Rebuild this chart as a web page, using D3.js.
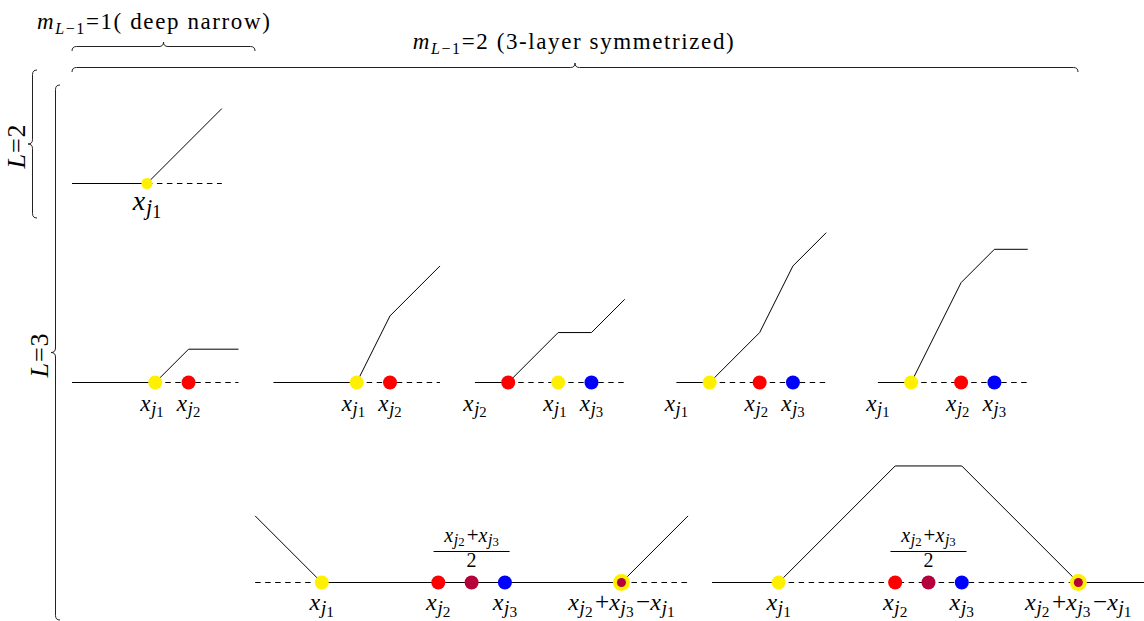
<!DOCTYPE html>
<html>
<head>
<meta charset="utf-8">
<script src="https://cdn.jsdelivr.net/npm/d3@7"></script>
<style>
  html, body { margin: 0; padding: 0; background: #fff; }
  svg { display: block; }
  text { font-family: 'Liberation Serif', 'DejaVu Serif', serif; fill: #000; }
</style>
</head>
<body>
<svg id="chart"></svg>
<script>
// ---- data (in grid units, relative to each panel's start) ----
const panelRow    = [0, 1, 1, 1, 1, 1, 2, 2];
const panelOffset = [0, 0, 12.1, 24.2, 36.3, 48.4, 11, 38.44];

const solidSpans  = [[[0, 4.5]], [[0, 5]], [[0, 5]], [[0, 2]], [[0, 2]], [[0, 2]], [[4, 22]], [[0, 4], [22, 26]]];
const dashedSpans = [[[4.5, 9]], [[5, 10]], [[5, 10]], [[2, 9]], [[2, 9]], [[2, 9]], [[0, 4], [22, 26]], [[4, 22]]];

const ramps = [
  [[[4.5, 0], [9, 4.5]]],
  [[[5, 0], [7, 2], [10, 2]]],
  [[[5, 0], [7, 4], [10, 7]]],
  [[[2, 0], [5, 3], [7, 3], [9, 5]]],
  [[[2, 0], [5, 3], [7, 7], [9, 9]]],
  [[[2, 0], [5, 6], [7, 8], [9, 8]]],
  [[[0, 4], [4, 0]], [[22, 0], [26, 4]]],
  [[[4, 0], [11, 7], [15, 7], [22, 0]]]
];

const knotX    = [[4.5], [5, 7], [5, 7], [2, 5, 7], [2, 5, 7], [2, 5, 7], [4, 11, 13, 15, 22], [4, 11, 13, 15, 22]];
const knotKind = [['y'], ['y', 'r'], ['y', 'r'], ['r', 'y', 'b'], ['y', 'r', 'b'], ['y', 'r', 'b'],
                  ['y', 'r', 'm', 'b', 'ring'], ['y', 'r', 'm', 'b', 'ring']];

const labelX    = [[4.5], [4.8, 7], [4.8, 7], [0, 4.8, 7], [0, 4.8, 7], [0, 4.8, 7], [4, 11, 15, 22], [4, 11, 15, 22]];
const labelText = [
  ['x_{j_1}'],
  ['x_{j_1}', 'x_{j_2}'],
  ['x_{j_1}', 'x_{j_2}'],
  ['x_{j_2}', 'x_{j_1}', 'x_{j_3}'],
  ['x_{j_1}', 'x_{j_2}', 'x_{j_3}'],
  ['x_{j_1}', 'x_{j_2}', 'x_{j_3}'],
  ['x_{j_1}', 'x_{j_2}', 'x_{j_3}', 'x_{j_2}+x_{j_3}−x_{j_1}'],
  ['x_{j_1}', 'x_{j_2}', 'x_{j_3}', 'x_{j_2}+x_{j_3}−x_{j_1}']
];
const fracX = [null, null, null, null, null, null, 13, 13];

const knotColor = { y: '#fff000', r: '#ff0000', b: '#0000ff', m: '#b5003c' };

// ---- layout ----
const width = 1144, height = 621;
const UNIT = 16.65;
const rowBase  = [183.5, 382.5, 582.5];
const rowFont  = [28, 23, 24];
const rowDot   = [5.5, 7, 7];

const svg = d3.select('#chart').attr('width', width).attr('height', height)
  .attr('viewBox', `0 0 ${width} ${height}`);

const x = d3.scaleLinear().domain([0, 1]).range([72, 72 + UNIT]);
const yOf = r => d3.scaleLinear().domain([0, 1]).range([rowBase[r], rowBase[r] - UNIT]);

// writes things like x_{j_1}+x_{j_2} as tspans
function mathText(t, str, size, drop = 1) {
  const re = /([A-Za-z])(?:_\{([A-Za-z])_(\d)\})?|([+−=])/g;
  let m, back = 0;
  while ((m = re.exec(str)) !== null) {
    if (m[1]) {
      t.append('tspan').attr('font-style', 'italic').attr('font-size', size)
        .attr('dy', back).text(m[1]);
      back = 0;
      if (m[2]) {
        t.append('tspan').attr('font-style', 'italic').attr('font-size', size * 0.8)
          .attr('dy', size * 0.2 * drop).attr('dx', size * 0.03).text(m[2]);
        t.append('tspan').attr('font-size', size * 0.64)
          .attr('dy', size * 0.1 * drop).text(m[3]);
        back = -size * 0.3 * drop;
      }
    } else {
      t.append('tspan').attr('font-size', size * 1.05).attr('dy', back)
        .attr('dx', size * 0.1).text(m[4]);
      t.append('tspan').attr('font-size', size).attr('dx', size * 0.1).text('');
      back = 0;
    }
  }
}

const line = d3.line().x(d => x(d[0])).y(d => d[1]);

panelRow.forEach((r, i) => {
  const off = panelOffset[i];
  const y = yOf(r);
  const g = svg.append('g');

  solidSpans[i].forEach(s => {
    g.append('path').attr('d', line([[s[0] + off, y(0)], [s[1] + off, y(0)]]))
      .attr('stroke', '#000').attr('stroke-width', 1).attr('fill', 'none');
  });
  dashedSpans[i].forEach(s => {
    g.append('path').attr('d', line([[s[0] + off, y(0)], [s[1] + off, y(0)]]))
      .attr('stroke', '#000').attr('stroke-width', 1).attr('stroke-dasharray', '5.5,4.5')
      .attr('fill', 'none');
  });
  ramps[i].forEach(pts => {
    g.append('path').attr('d', line(pts.map(p => [p[0] + off, y(p[1])])))
      .attr('stroke', '#000').attr('stroke-width', 1).attr('fill', 'none');
  });

  knotX[i].forEach((kx, k) => {
    const kind = knotKind[i][k];
    if (kind === 'ring') {
      g.append('circle').attr('cx', x(kx + off)).attr('cy', y(0)).attr('r', 8.5).attr('fill', knotColor.y);
      g.append('circle').attr('cx', x(kx + off)).attr('cy', y(0)).attr('r', 4.5).attr('fill', knotColor.m);
    } else {
      g.append('circle').attr('cx', x(kx + off)).attr('cy', y(0)).attr('r', rowDot[r]).attr('fill', knotColor[kind]);
    }
  });

  labelX[i].forEach((lx, k) => {
    const t = g.append('text').attr('x', x(lx + off)).attr('y', y(0) + (r === 0 ? 26 : r === 1 ? 28 : 27))
      .attr('text-anchor', 'middle');
    mathText(t, labelText[i][k], rowFont[r]);
  });

  if (fracX[i] !== null) {
    const fx = x(fracX[i] + off);
    const num = g.append('text').attr('x', fx).attr('y', y(0) - 41).attr('text-anchor', 'middle');
    mathText(num, 'x_{j_2}+x_{j_3}', 20, 0.75);
    g.append('line').attr('x1', fx - 38).attr('x2', fx + 38)
      .attr('y1', y(0) - 31).attr('y2', y(0) - 31).attr('stroke', '#000').attr('stroke-width', 1);
    g.append('text').attr('x', fx).attr('y', y(0) - 16).attr('text-anchor', 'middle')
      .attr('font-size', 20).text('2');
  }
});

// ---- braces ----
function hBrace(x1, x2, yb, a) {
  const xm = (x1 + x2) / 2;
  return `M${x1},${yb + a} Q${x1},${yb} ${x1 + a},${yb} L${xm - a},${yb} Q${xm},${yb} ${xm},${yb - a}` +
         ` Q${xm},${yb} ${xm + a},${yb} L${x2 - a},${yb} Q${x2},${yb} ${x2},${yb + a}`;
}
function vBrace(xb, y1, y2, a) {
  const ym = (y1 + y2) / 2;
  return `M${xb + a},${y1} Q${xb},${y1} ${xb},${y1 + a} L${xb},${ym - a} Q${xb},${ym} ${xb - a},${ym}` +
         ` Q${xb},${ym} ${xb},${ym + a} L${xb},${y2 - a} Q${xb},${y2} ${xb + a},${y2}`;
}
const braceStyle = p => p.attr('fill', 'none').attr('stroke', '#222').attr('stroke-width', 1);

svg.append('path').attr('d', hBrace(72, 255, 46.5, 4.5)).call(braceStyle);
svg.append('path').attr('d', hBrace(72, 1078, 67.5, 4.5)).call(braceStyle);
svg.append('path').attr('d', vBrace(32.5, 70, 218, 4.5)).call(braceStyle);
svg.append('path').attr('d', vBrace(55.5, 85, 620, 4.5)).call(braceStyle);

// ---- titles ----
function title(xp, yp, anchor, rest) {
  const t = svg.append('text').attr('x', xp).attr('y', yp).attr('text-anchor', anchor)
    .style('letter-spacing', '1.6px');
  t.append('tspan').attr('font-style', 'italic').attr('font-size', 23).text('m');
  t.append('tspan').attr('font-style', 'italic').attr('font-size', 16).attr('dy', 5).text('L');
  t.append('tspan').attr('font-size', 16).text('−1');
  t.append('tspan').attr('font-size', 23).attr('dy', -5).text(rest);
}
title(37, 29, 'start', '=1( deep narrow)');
title(574, 49, 'middle', '=2 (3-layer symmetrized)');

function sideLabel(xp, yp, rest) {
  const t = svg.append('text').attr('transform', `translate(${xp},${yp}) rotate(-90)`)
    .attr('text-anchor', 'middle').style('letter-spacing', '1px');
  t.append('tspan').attr('font-style', 'italic').attr('font-size', 26).text('L');
  t.append('tspan').attr('font-size', 26).text(rest);
}
sideLabel(25, 146, '=2');
sideLabel(48, 355, '=3');
</script>
</body>
</html>
